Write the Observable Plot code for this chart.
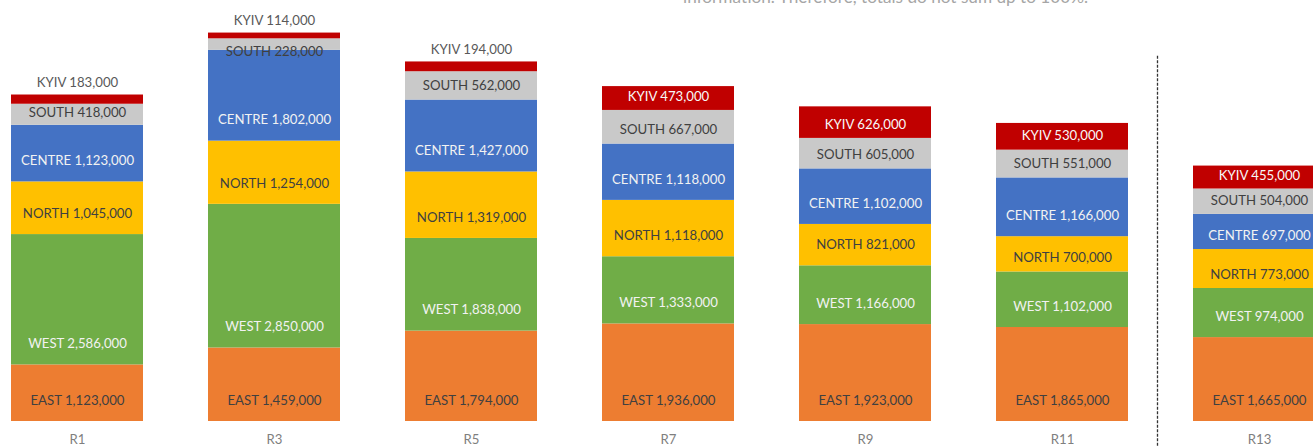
<!DOCTYPE html>
<html>
<head>
<meta charset="utf-8">
<script src="https://cdn.jsdelivr.net/npm/d3@7"></script>
<script src="https://cdn.jsdelivr.net/npm/@observablehq/plot@0.6"></script>
<style>
  html, body { margin: 0; padding: 0; background: #fff; overflow: hidden; width: 1313px; height: 446px; }
  #wrap { position: relative; width: 1313px; height: 446px; }
  #note { position: absolute; left: 683px; top: -13px; font-family: Lato, "Open Sans", sans-serif; font-weight: 400; font-size: 17.2px; color: #a6a6a6; white-space: nowrap; line-height: 20px; }
  #chart { position: absolute; left: 0; top: 0; }
</style>
</head>
<body>
<div id="wrap">
  <div id="chart"></div>
  <div id="note">information. Therefore, totals do not sum up to 100%.</div>
</div>
<script>
// ---- data ----
const rounds = ["R1", "R3", "R5", "R7", "R9", "R11", "R13"];
const regions = ["EAST", "WEST", "NORTH", "CENTRE", "SOUTH", "KYIV"];
const east   = [1123000, 1459000, 1794000, 1936000, 1923000, 1865000, 1665000];
const west   = [2586000, 2850000, 1838000, 1333000, 1166000, 1102000, 974000];
const north  = [1045000, 1254000, 1319000, 1118000, 821000, 700000, 773000];
const centre = [1123000, 1802000, 1427000, 1118000, 1102000, 1166000, 697000];
const south  = [418000, 228000, 562000, 667000, 605000, 551000, 504000];
const kyiv   = [183000, 114000, 194000, 473000, 626000, 530000, 455000];
const colors = ["#ED7D31", "#70AD47", "#FFC000", "#4472C4", "#C9C9C9", "#C00000"];
const labelColors = ["#404040", "#F2F2F2", "#404040", "#F2F2F2", "#404040", "#F8F8F8"];

const series = [east, west, north, centre, south, kyiv];

// ---- layout constants ----
const W = 1313, H = 446, MB = 25, MT = 17.8, YMAX = 8000000;
const pxPerUnit = (H - MB - MT) / YMAX;

const rows = [];
rounds.forEach((r, i) => {
  let base = 0;
  const total = series.reduce((s, a) => s + a[i], 0);
  regions.forEach((g, j) => {
    const v = series[j][i];
    const h = v * pxPerUnit;
    const isTop = j === regions.length - 1;
    let labelY, color = labelColors[j];
    if (h < 15) {
      if (isTop) { labelY = total + 12 / pxPerUnit; color = "#595959"; }
      else { labelY = base - 1 / pxPerUnit; }
    } else {
      const off = h >= 40 ? 21 : Math.min(14, h / 2 + 2);
      labelY = base + off / pxPerUnit;
    }
    rows.push({round: r, region: g, value: v, labelY, color, label: `${g} ${d3.format(",")(v)}`});
    base += v;
  });
});

const FONT = "Lato, 'Open Sans', sans-serif";

const chart = Plot.plot({
  width: W,
  height: H,
  marginTop: MT,
  marginBottom: MB,
  marginLeft: 0,
  marginRight: 0,
  style: {overflow: "visible", maxWidth: "none", background: "white"},
  x: {domain: rounds, range: [10, 1326], paddingInner: 0.331, paddingOuter: 0, axis: null},
  y: {domain: [0, YMAX], axis: null},
  color: {domain: regions, range: colors},
  marks: [
    Plot.barY(rows, {x: "round", y: "value", fill: "region", order: regions}),
    Plot.text(rows, {
      x: "round", y: "labelY", text: "label", fill: "color",
      fontFamily: FONT, fontSize: 13.2, lineAnchor: "middle"
    }),
    Plot.text(rounds, {
      x: d => d, y: 0, dy: 18, text: d => d, fill: "#7f7f7f",
      fontFamily: FONT, fontSize: 13.2, lineAnchor: "middle"
    }),
    Plot.ruleX(["R13"], {
      x: d => d, dx: -102, insetTop: 38, insetBottom: -25,
      stroke: "#333", strokeWidth: 1.3, strokeDasharray: "3,1.5"
    })
  ]
});
document.getElementById("chart").appendChild(chart);
</script>
</body>
</html>
